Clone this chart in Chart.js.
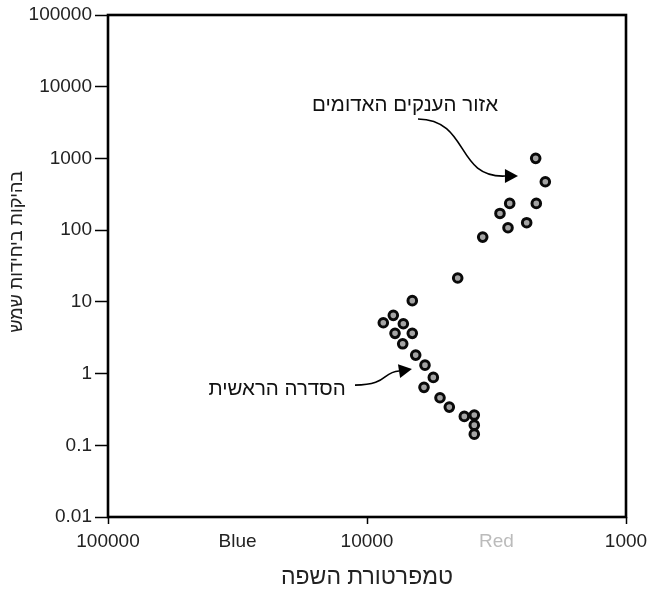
<!DOCTYPE html>
<html><head><meta charset="utf-8">
<script src="https://cdn.jsdelivr.net/npm/chart.js@4"></script>
<style>html,body{margin:0;padding:0;background:#fff}#wrap{width:648px;height:591px}</style>
</head><body><div id="wrap"><canvas id="c" width="648" height="591"></canvas></div>
<script>
// Surface temperature (K) of each star
const temperatures = [2232, 2049, 2812, 2220, 3066, 2855, 2418, 3575, 4465,
  6686, 7914, 8651, 7240, 7795, 6686, 7280, 6486, 5972, 5546, 6025, 5226, 4811, 4210, 3853, 3853, 3853];
// Luminosity in solar units
const luminosities = [1003, 473, 236, 236, 171, 108, 127, 80, 21.5,
  10.4, 6.48, 5.11, 4.95, 3.64, 3.64, 2.60, 1.81, 1.31, 0.885, 0.642, 0.460, 0.341, 0.253, 0.264, 0.191, 0.143];

const xTickValues = [100000, 31623, 10000, 3162, 1000];
const xTickLabels = ['100000', 'Blue', '10000', 'Red', '1000'];
const yTickValues = [0.01, 0.1, 1, 10, 100, 1000, 10000, 100000];
const yTickLabels = ['0.01', '0.1', '1', '10', '100', '1000', '10000', '100000'];

const xTitle = 'טמפרטורת השפה';
const yTitle = 'בהיקות ביחידות שמש';
const yTitleAnchorValue = 50; // luminosity value at which the y title is centred

// annotations: label text, label anchor (T, L), arrow path [start, c1, c2, end, tip] in (T, L)
const annotationLabels = ['אזור הענקים האדומים', 'הסדרה הראשית'];
const annotationAnchors = [[7133, 5556], [22255, 0.608]];
const arrowPaths = [
  [[6355, 3544], [4001, 3432], [4573, 533], [2933, 568], [2612, 568]],
  [[11125, 0.691], [8300, 0.691], [8751, 1.049], [7522, 1.084], [6705, 1.156]]
];

const FONT = '"Liberation Sans", Arial, "DejaVu Sans", sans-serif';

const overlay = {
  id: 'overlay',
  beforeDatasetsDraw(chart) {
    const { ctx, chartArea: a } = chart;
    ctx.save();
    ctx.strokeStyle = '#000';
    ctx.lineWidth = 2.6;
    ctx.strokeRect(a.left, a.top, a.right - a.left, a.bottom - a.top);
    ctx.restore();
  },
  afterDraw(chart) {
    const { ctx } = chart;
    const xs = chart.scales.x, ys = chart.scales.y;
    const P = p => [xs.getPixelForValue(p[0]), ys.getPixelForValue(p[1])];
    ctx.save();
    // y axis title
    ctx.fillStyle = '#222';
    ctx.font = '18px ' + FONT;
    ctx.textAlign = 'center';
    ctx.textBaseline = 'middle';
    ctx.translate(17, ys.getPixelForValue(yTitleAnchorValue));
    ctx.rotate(-Math.PI / 2);
    ctx.fillText(yTitle, 0, 0);
    ctx.setTransform(1, 0, 0, 1, 0, 0);

    ctx.fillStyle = '#111';
    ctx.font = '20.5px ' + FONT;
    annotationLabels.forEach((t, i) => {
      const [x, y] = P(annotationAnchors[i]);
      ctx.fillText(t, x, y);
    });
    ctx.strokeStyle = '#000';
    ctx.lineWidth = 1.6;
    arrowPaths.forEach(path => {
      const [s, c1, c2, e, tip] = path.map(P);
      ctx.beginPath();
      ctx.moveTo(s[0], s[1]);
      ctx.bezierCurveTo(c1[0], c1[1], c2[0], c2[1], e[0], e[1]);
      ctx.stroke();
      const ang = Math.atan2(tip[1] - e[1], tip[0] - e[0]);
      const hw = 7;
      ctx.beginPath();
      ctx.moveTo(tip[0], tip[1]);
      ctx.lineTo(e[0] + Math.sin(ang) * hw, e[1] - Math.cos(ang) * hw);
      ctx.lineTo(e[0] - Math.sin(ang) * hw, e[1] + Math.cos(ang) * hw);
      ctx.closePath();
      ctx.fillStyle = '#000';
      ctx.fill();
    });
    ctx.restore();
  }
};

new Chart(document.getElementById('c'), {
  type: 'scatter',
  data: {
    datasets: [{
      data: temperatures.map((t, i) => ({ x: t, y: luminosities[i] })),
      pointStyle: 'circle',
      pointRadius: 4.3,
      pointBorderWidth: 3,
      pointBackgroundColor: '#a4a4a4',
      pointBorderColor: '#0a0a0a',
      pointHoverRadius: 4.3
    }]
  },
  options: {
    responsive: false,
    animation: false,
    devicePixelRatio: 1,
    layout: { padding: { top: 15, right: 22, left: 0, bottom: 0 } },
    plugins: { legend: { display: false }, tooltip: { enabled: false } },
    scales: {
      x: {
        type: 'logarithmic',
        reverse: true,
        min: 1000, max: 100000,
        afterBuildTicks: s => { s.ticks = xTickValues.map(v => ({ value: v })); },
        afterFit: s => { s.height = 74; s.paddingLeft = 0; s.paddingRight = 0; },
        border: { display: false },
        grid: {
          drawOnChartArea: false,
          tickLength: 7,
          tickWidth: 1.5,
          tickColor: c => (c.index === 1 || c.index === 3) ? 'rgba(0,0,0,0)' : '#000'
        },
        ticks: {
          autoSkip: false, maxRotation: 0, padding: 6,
          font: { family: FONT, size: 19 },
          color: c => c.index === 3 ? '#bbbbbb' : '#222',
          callback: (v, i) => xTickLabels[i]
        },
        title: { display: true, text: xTitle, color: '#222', font: { family: FONT, size: 23 }, padding: { top: 0, bottom: 0 } }
      },
      y: {
        type: 'logarithmic',
        min: 0.01, max: 100000,
        afterBuildTicks: s => { s.ticks = yTickValues.map(v => ({ value: v })); },
        afterFit: s => { s.width = 108; s.paddingTop = 0; s.paddingBottom = 0; },
        border: { display: false },
        grid: { drawOnChartArea: false, tickLength: 13, tickWidth: 1.5, tickColor: '#000' },
        ticks: {
          autoSkip: false, padding: 3,
          font: { family: FONT, size: 19 },
          color: '#222',
          callback: (v, i) => yTickLabels[i]
        },
        title: { display: false }
      }
    }
  },
  plugins: [overlay]
});
</script></body></html>
